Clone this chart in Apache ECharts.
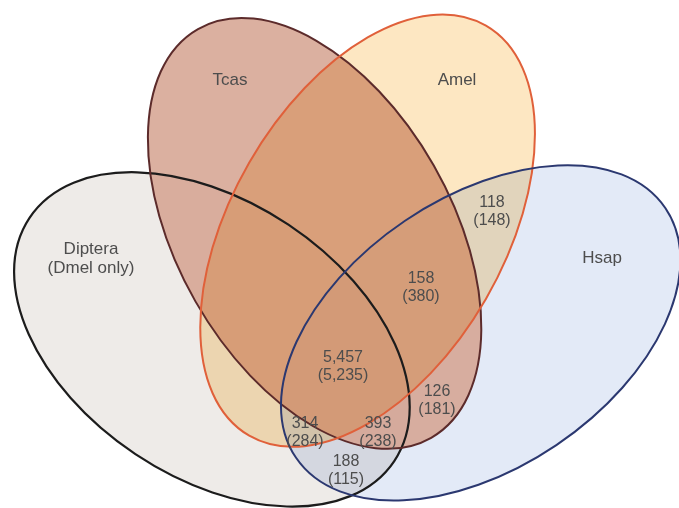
<!DOCTYPE html>
<html><head><meta charset="utf-8">
<script src="https://cdn.jsdelivr.net/npm/echarts@6/dist/echarts.min.js"></script>
<style>html,body{margin:0;padding:0;background:#fff}#c{width:679px;height:508px}</style>
</head><body><div id="c"></div>
<script>
// Data
const setNames = ['Diptera\n(Dmel only)', 'Tcas', 'Amel', 'Hsap'];
const regionCounts = [118, 158, 5457, 126, 314, 393, 188];
const regionCountsAlt = [148, 380, 5235, 181, 284, 238, 115];

// Layout (drawing geometry in chart coordinates) and styles
const ellipses = [
  {cx:211.9, cy:339.4, rx:219.2, ry:137.9, ang:33.7},
  {cx:314.6, cy:233.4, rx:235.3, ry:137.2, ang:60.3},
  {cx:367.6, cy:230.7, rx:236.7, ry:136.6, ang:-60.0},
  {cx:480.7, cy:332.9, rx:222.9, ry:135.3, ang:-34.0}
];
const fills = ['#eeebe8', 'rgba(213,162,143,0.85)', '#fde7c2', '#e3eaf7'];
const strokes = ['#1c1c1c', '#5c2b2b', '#e0603a', '#2b3870'];
const strokeWidths = [2.2, 2, 2, 2];
const setLabelPos = [[91,259],[230,80],[457,80],[602,258]];
const regionPos = [[492,212],[421,288],[343,367],[437,401],[305,433],[378,433],[346,471]];

const fmt = v => v.toLocaleString('en-US');
const chart = echarts.init(document.getElementById('c'), null, {renderer:'canvas'});
function ell(api, isStroke){
  const i = api.value(0), e = ellipses[i];
  const c = api.coord([e.cx, e.cy]);
  const sz = api.size([e.rx, e.ry]);
  return {type:'ellipse', x:c[0], y:c[1], rotation:-e.ang*Math.PI/180,
    shape:{cx:0, cy:0, rx:sz[0], ry:sz[1]},
    style: isStroke ? {fill:null, stroke:strokes[i], lineWidth:strokeWidths[i]} : {fill:fills[i]}};
}
const fillSeries = (idx, blend) => ({type:'custom', clip:false, silent:true, blendMode:blend,
  dimensions:['set'], encode:{x:-1, y:-1}, data:idx.map(i=>[i]), renderItem:(p,api)=>ell(api,false)});
chart.setOption({
  backgroundColor:'#ffffff', animation:false,
  grid:{left:0,right:0,top:0,bottom:0},
  xAxis:{type:'value', min:0, max:679, show:false},
  yAxis:{type:'value', min:0, max:508, inverse:true, show:false},
  series:[
    fillSeries([0,3], 'multiply'),
    fillSeries([1], 'source-over'),
    fillSeries([2], 'multiply'),
    {type:'custom', clip:false, silent:true, dimensions:['set'], encode:{x:-1, y:-1}, data:setNames.map((n,i)=>[i]), renderItem:(p,api)=>ell(api,true)},
    {type:'custom', clip:false, data:setNames.map((n,i)=>i), renderItem:(p,api)=>{const c=api.coord(setLabelPos[p.dataIndex]);
      return {type:'text', x:c[0], y:c[1], style:{text:setNames[p.dataIndex], align:'center', verticalAlign:'middle', font:'17px "Liberation Sans", Arial, sans-serif', lineHeight:19, fill:'#4d4d4d'}};}},
    {type:'custom', clip:false, data:regionCounts.map((v,i)=>i), renderItem:(p,api)=>{const i=p.dataIndex; const c=api.coord(regionPos[i]);
      return {type:'text', x:c[0], y:c[1], style:{text:fmt(regionCounts[i])+'\n('+fmt(regionCountsAlt[i])+')', align:'center', verticalAlign:'middle', font:'16px "Liberation Sans", Arial, sans-serif', lineHeight:18, fill:'#4d4d4d'}};}}
  ]
});
</script></body></html>
